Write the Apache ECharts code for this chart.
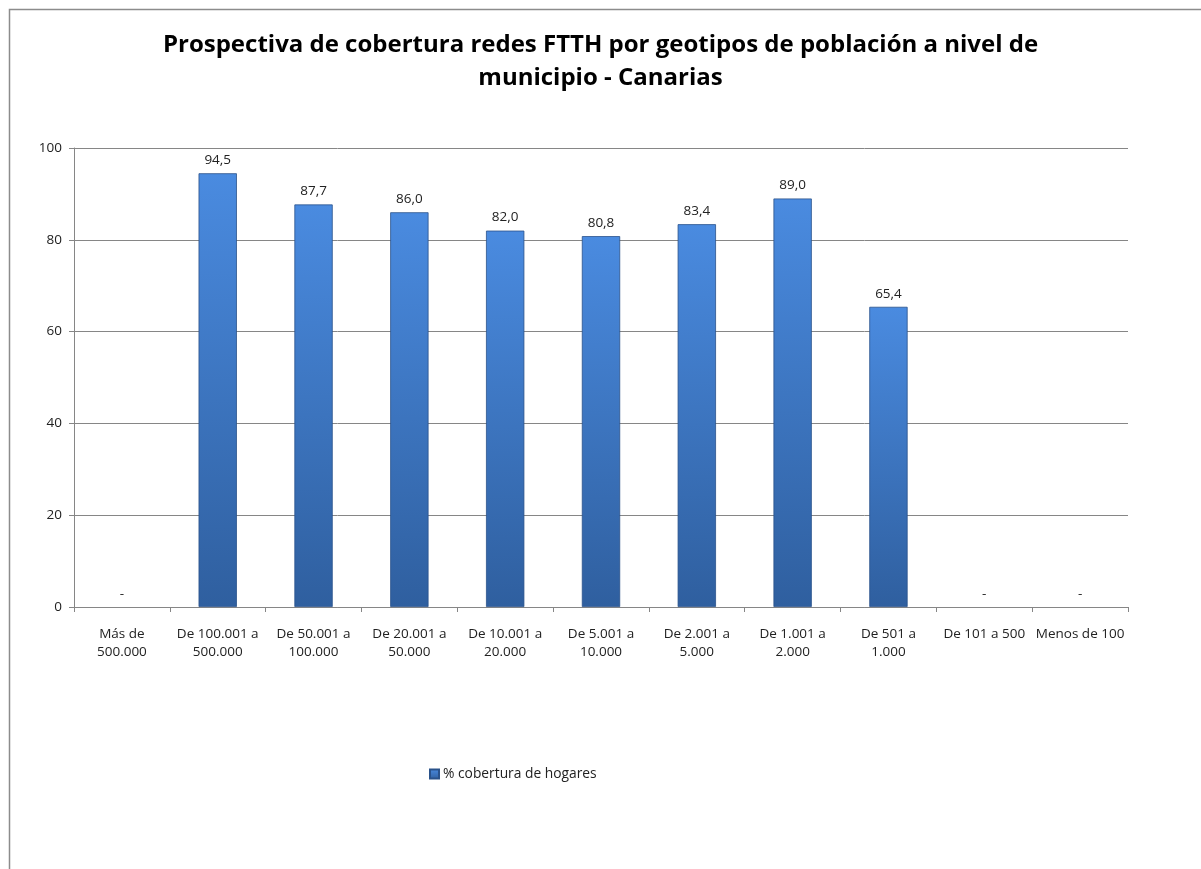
<!DOCTYPE html>
<html><head><meta charset="utf-8">
<script src="https://cdn.jsdelivr.net/npm/echarts@6/dist/echarts.min.js"></script>
<style>html,body{margin:0;padding:0;background:#fff}#c{width:1201px;height:869px}</style>
</head><body><div id="c"></div>
<script>
const titleText = 'Prospectiva de cobertura redes FTTH por geotipos de población a nivel de\nmunicipio - Canarias';
const categories = ['Más de\n500.000','De 100.001 a\n500.000','De 50.001 a\n100.000','De 20.001 a\n50.000','De 10.001 a\n20.000','De 5.001 a\n10.000','De 2.001 a\n5.000','De 1.001 a\n2.000','De 501 a\n1.000','De 101 a 500','Menos de 100'];
const coverage = [null, 94.5, 87.7, 86.0, 82.0, 80.8, 83.4, 89.0, 65.4, null, null];
const seriesName = '% cobertura de hogares';
const yTicks = {min: 0, max: 100, interval: 20};

const font = '"Open Sans", "Noto Sans", sans-serif';
const chart = echarts.init(document.getElementById('c'), null, {renderer: 'canvas'});
const barColor = new echarts.graphic.LinearGradient(0, 0, 0, 1, [
  {offset: 0, color: '#4a8be0'},
  {offset: 1, color: '#2f5f9f'}
]);
chart.setOption({
  animation: false,
  backgroundColor: '#fff',
  graphic: [{
    type: 'rect', shape: {x: 9.5, y: 9.5, width: 1400, height: 1000},
    style: {fill: 'none', stroke: '#8c8c8c', lineWidth: 1.5}, silent: true
  }],
  title: {
    text: titleText, left: 'center', top: 24,
    textStyle: {fontFamily: font, fontWeight: 'bold', fontSize: 24, lineHeight: 33, color: '#000'}
  },
  grid: {left: 74, right: 73, top: 148, bottom: 262, containLabel: false},
  legend: {
    data: [seriesName], left: 424, top: 762, itemWidth: 9, itemHeight: 9, itemGap: 4,
    icon: 'rect',
    textStyle: {fontFamily: font, fontSize: 13.8, color: '#222', padding: [0, 0, 0, -1]}
  },
  xAxis: {
    type: 'category', data: categories,
    axisLine: {lineStyle: {color: '#868686', width: 1}},
    axisTick: {show: true, length: 5, lineStyle: {color: '#868686'}},
    axisLabel: {fontFamily: font, fontSize: 13.5, color: '#222', lineHeight: 18, margin: 18, interval: 0}
  },
  yAxis: {
    type: 'value', min: yTicks.min, max: yTicks.max, interval: yTicks.interval,
    axisLine: {show: true, lineStyle: {color: '#868686', width: 1}},
    axisTick: {show: true, length: 5, lineStyle: {color: '#868686'}},
    splitLine: {lineStyle: {color: '#868686', width: 1}},
    axisLabel: {fontFamily: font, fontSize: 13.5, color: '#222', margin: 12}
  },
  series: [{
    name: seriesName, type: 'bar', barWidth: '40%',
    data: coverage.map(v => v === null ? {value: 0, isNull: true, itemStyle: {borderWidth: 0, color: 'rgba(0,0,0,0)'}} : v),
    itemStyle: {color: barColor, borderColor: '#2a528a', borderWidth: 0.8},
    label: {
      show: true, position: 'top', distance: 6,
      fontFamily: font, fontSize: 13.5, color: '#222',
      formatter: p => (p.data && p.data.isNull) ? '-' : p.value.toFixed(1).replace('.', ',')
    }
  }]
});
</script></body></html>
